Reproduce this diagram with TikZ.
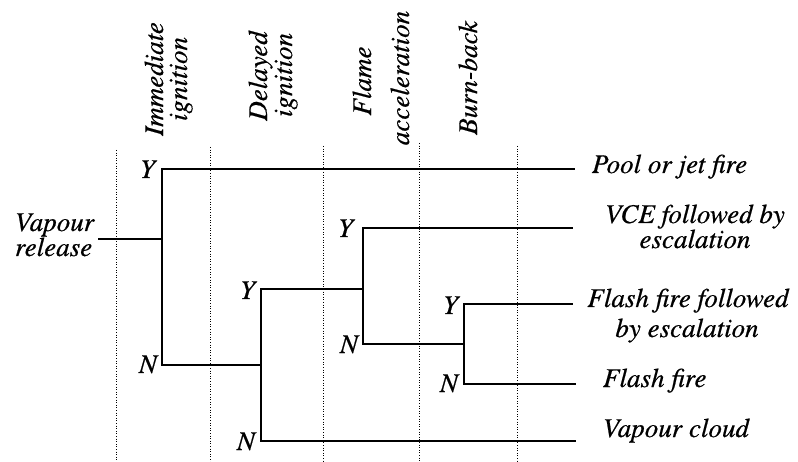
\documentclass[tikz,border=0pt]{standalone}
\usepackage{fontspec}
\newfontfamily\tnr{TeX Gyre Termes}[ItalicFeatures={FakeBold=0.6}]
\begin{document}
\begin{tikzpicture}[x=1pt,y=-1pt,
  lab/.style={font={\tnr\fontsize{27}{30}\selectfont\itshape}, inner sep=0pt, outer sep=0pt},
  yn/.style={lab, anchor=base east},
  hdr/.style={lab, rotate=90, anchor=base},
  leaf/.style={lab, anchor=base west},
  branch/.style={line width=1.2pt, line cap=rect},
  guide/.style={line width=0.9pt, dash pattern=on 1pt off 1.6pt}]
\useasboundingbox (0,0) rectangle (798,462);

% column headers
\node[hdr] (h1a) at (163,79) {Immediate};
\node[hdr] (h1b) at (187,79) {ignition};
\node[hdr] (h2a) at (267,76) {Delayed};
\node[hdr] (h2b) at (292,75) {ignition};
\node[hdr] (h3a) at (371,81) {Flame};
\node[hdr] (h3b) at (409,78) {acceleration};
\node[hdr] (h4a) at (477,78) {Burn-back};

% dotted guide lines
\coordinate (g1t) at (116,150); \coordinate (g1b) at (116,462);
\coordinate (g2t) at (210,147); \coordinate (g2b) at (210,462);
\coordinate (g3t) at (323,146); \coordinate (g3b) at (323,462);
\coordinate (g4t) at (419,143); \coordinate (g4b) at (419,462);
\coordinate (g5t) at (517,146); \coordinate (g5b) at (517,462);
\foreach \g in {g1,g2,g3,g4,g5} \draw[guide] (\g t) -- (\g b);

% start
\node[lab, anchor=base west] (vr1) at (15,231) {Vapour};
\node[lab, anchor=base west] (vr2) at (15,256) {release};
\coordinate (S) at (99,239);

% branch points
\coordinate (A) at (162,239);
\coordinate (AY) at (162,169);
\coordinate (AN) at (162,365);
\coordinate (B) at (261,365);
\coordinate (BY) at (261,289);
\coordinate (BN) at (261,441);
\coordinate (C) at (363,289);
\coordinate (CY) at (363,228);
\coordinate (CN) at (363,344);
\coordinate (D) at (464,344);
\coordinate (DY) at (464,304);
\coordinate (DN) at (464,384);
\coordinate (E1) at (574,169);
\coordinate (E2) at (572,228);
\coordinate (E3) at (572,304);
\coordinate (E4) at (575,384);
\coordinate (E5) at (575,441);

\draw[branch] (S) -- (A);
\draw[branch] (AY) -- (AN);
\draw[branch] (AY) -- (E1);
\draw[branch] (AN) -- (B);
\draw[branch] (BY) -- (BN);
\draw[branch] (BY) -- (C);
\draw[branch] (CY) -- (CN);
\draw[branch] (CY) -- (E2);
\draw[branch] (CN) -- (D);
\draw[branch] (DY) -- (DN);
\draw[branch] (DY) -- (E3);
\draw[branch] (DN) -- (E4);
\draw[branch] (BN) -- (E5);

% Y / N labels
\node[yn] (yA) at ([xshift=-7pt,yshift=-9pt]AY) {Y};
\node[yn] (nA) at ([xshift=-5pt,yshift=-8pt]AN) {N};
\node[yn] (yB) at ([xshift=-6pt,yshift=-10pt]BY) {Y};
\node[yn] (nB) at ([xshift=-6pt,yshift=-9pt]BN) {N};
\node[yn] (yC) at ([xshift=-10pt,yshift=-9pt]CY) {Y};
\node[yn] (nC) at ([xshift=-5pt,yshift=-9pt]CN) {N};
\node[yn] (yD) at ([xshift=-6pt,yshift=-10pt]DY) {Y};
\node[yn] (nD) at ([xshift=-6pt,yshift=-8pt]DN) {N};

% outcomes
\node[leaf] (o1) at (592,173) {Pool or jet fire};
\node[lab, anchor=base] (o2a) at (695,223) {VCE followed by};
\node[lab, anchor=base] (o2b) at (695,248) {escalation};
\node[lab, anchor=base] (o3a) at (688,307) {Flash fire followed};
\node[lab, anchor=base] (o3b) at (687,337) {by escalation};
\node[leaf] (o4) at (603,387) {Flash fire};
\node[leaf] (o5) at (603,437) {Vapour cloud};
\end{tikzpicture}
\end{document}
